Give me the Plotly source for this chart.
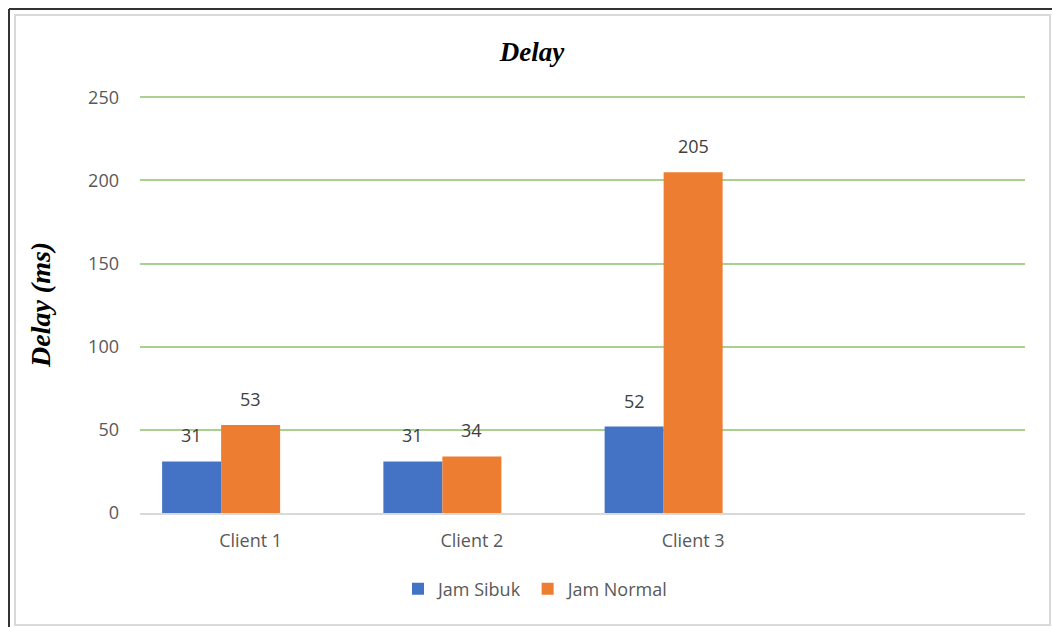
import plotly.graph_objects as go

categories = ["Client 1", "Client 2", "Client 3"]
jam_sibuk = [31, 31, 52]
jam_normal = [53, 34, 205]
empty_series = [None, None, None]
series_names = ["Jam Sibuk", "Jam Normal"]
y_ticks = [0, 50, 100, 150, 200, 250]

W, H = 1052, 627
L, R, T, B = 140, 27, 94, 114
PW, PH = W - L - R, H - T - B
BARGAP = 0.2

def px_x(px):
    return (px - L) / PW

def px_y(py):
    return (H - B - py) / PH

BLUE = "#4472C4"
ORANGE = "#ED7D31"
TXT = "#595959"
FONT = "Open Sans"

fig = go.Figure()
fig.add_trace(go.Bar(x=categories, y=jam_sibuk, name=series_names[0],
                     marker=dict(color=BLUE, line=dict(width=0))))
fig.add_trace(go.Bar(x=categories, y=jam_normal, name=series_names[1],
                     marker=dict(color=ORANGE, line=dict(width=0))))
fig.add_trace(go.Bar(x=categories, y=empty_series, name="", showlegend=False,
                     hoverinfo="skip", marker=dict(color="rgba(0,0,0,0)")))

# data labels
cat_px = PW / 4
bar_px = cat_px * (1 - BARGAP) / 3
annotations = []
for vals, sh in ((jam_sibuk, -bar_px), (jam_normal, 0)):
    for c, v in zip(categories, vals):
        annotations.append(dict(x=c, y=v, xref="x", yref="y", text=str(v),
                                showarrow=False, xshift=sh, yshift=12,
                                yanchor="bottom",
                                font=dict(family=FONT, size=18, color="#404040")))

annotations.append(dict(x=px_x(40), y=px_y(305), xref="paper", yref="paper",
                        text="<b><i>Delay (ms)</i></b>", textangle=-90,
                        showarrow=False, xanchor="center", yanchor="middle",
                        font=dict(family="Liberation Serif", size=28, color="#000000")))

shapes = [
    dict(type="rect", xref="paper", yref="paper",
         x0=px_x(15), x1=px_x(1050), y0=px_y(625), y1=px_y(15),
         line=dict(color="#d9d9d9", width=2), layer="below"),
    dict(type="line", xref="paper", yref="paper",
         x0=px_x(9), x1=px_x(1052), y0=px_y(9), y1=px_y(9),
         line=dict(color="#333333", width=2)),
    dict(type="line", xref="paper", yref="paper",
         x0=px_x(9), x1=px_x(9), y0=px_y(9), y1=px_y(627),
         line=dict(color="#333333", width=2)),
]

fig.update_layout(
    width=W, height=H,
    margin=dict(l=L, r=R, t=T, b=B, autoexpand=False),
    paper_bgcolor="white", plot_bgcolor="white",
    barmode="group", bargap=BARGAP, bargroupgap=0,
    title=dict(text="<b><i>Delay</i></b>", x=px_x(532), xref="paper",
               xanchor="center", y=1 - 52 / H, yanchor="middle",
               font=dict(family="Liberation Serif", size=27, color="#000000")),
    xaxis=dict(range=[-0.5, 3.5], showgrid=False, zeroline=False,
               showline=True, linecolor="#d9d9d9", linewidth=2,
               ticks="", ticklabelstandoff=10,
               tickfont=dict(family=FONT, size=18, color=TXT)),
    yaxis=dict(range=[0, 252], tickvals=y_ticks, showgrid=True,
               gridcolor="#a9d18e", gridwidth=1.6, zeroline=False,
               showline=False, ticks="", ticklabelstandoff=20,
               tickfont=dict(family=FONT, size=18, color=TXT)),
    legend=dict(orientation="h", x=px_x(536), xanchor="center",
                y=px_y(589), yanchor="middle",
                font=dict(family=FONT, size=18, color=TXT),
                itemwidth=30, traceorder="normal"),
    annotations=annotations, shapes=shapes,
)

fig.write_html("out.html")
